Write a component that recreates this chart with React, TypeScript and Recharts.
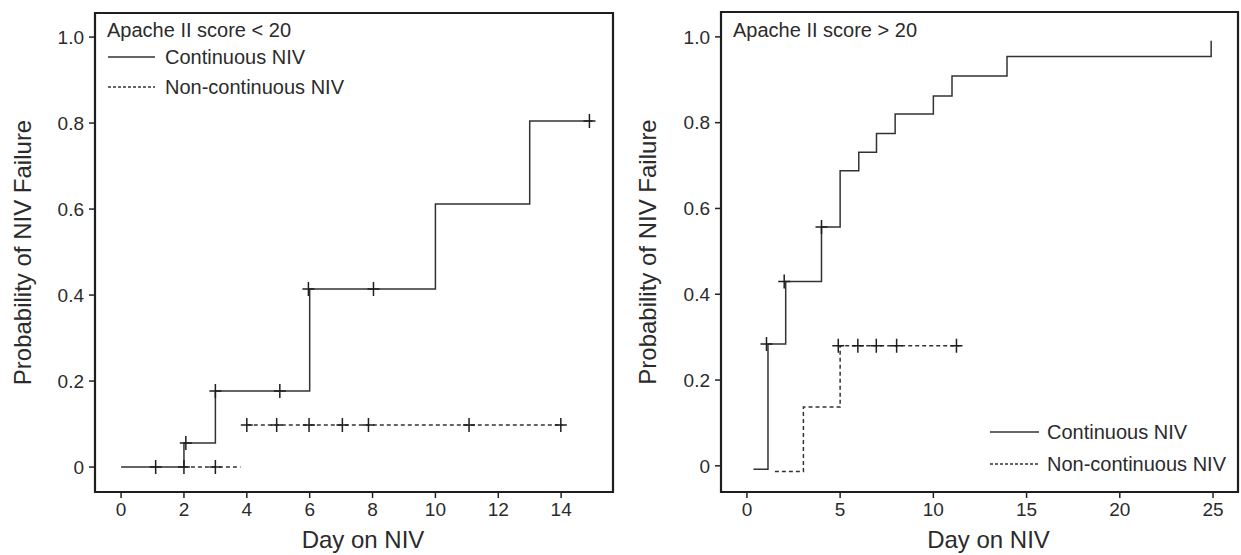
import React from "react";
import {
  ComposedChart,
  Line,
  Scatter,
  XAxis,
  YAxis,
  ReferenceArea,
  Legend,
  Label,
} from "recharts";

// ---------- data ----------
// Left panel: Apache II score < 20
const leftContTimes = [0, 2, 3, 6, 10, 13, 15];
const leftContProb = [0, 0.056, 0.177, 0.414, 0.612, 0.805, 0.805];
const leftContCensorTimes = [1.1, 2.06, 3.0, 5.05, 5.96, 8.03, 14.9];
const leftContCensorProb = [0, 0.056, 0.177, 0.177, 0.414, 0.414, 0.805];

const leftNonAT = [2.0, 3.8];
const leftNonAP = [0, 0];
const leftNonBT = [4.0, 14.05];
const leftNonBP = [0.098, 0.098];
const leftNonCensorTimes = [2.0, 3.0, 4.0, 4.95, 5.98, 7.04, 7.87, 11.07, 13.99];
const leftNonCensorProb = [0, 0, 0.098, 0.098, 0.098, 0.098, 0.098, 0.098, 0.098];

// Right panel: Apache II score > 20
const rightContTimes = [0.35, 1.13, 2.08, 4.0, 5.0, 6.0, 6.95, 7.95, 10.0, 11.0, 13.95, 24.9];
const rightContProb = [-0.008, 0.284, 0.43, 0.557, 0.688, 0.731, 0.775, 0.82, 0.862, 0.909, 0.954, 0.991];
const rightContCensorTimes = [1.05, 2.0, 4.0];
const rightContCensorProb = [0.284, 0.43, 0.557];

const rightNonTimes = [1.5, 3.03, 5.0, 11.45];
const rightNonProb = [-0.013, 0.137, 0.28, 0.28];
const rightNonCensorTimes = [4.9, 5.95, 6.94, 8.03, 11.24];
const rightNonCensorProb = [0.28, 0.28, 0.28, 0.28, 0.28];

const leftXTicks = [0, 2, 4, 6, 8, 10, 12, 14];
const rightXTicks = [0, 5, 10, 15, 20, 25];
const yTicks = [0, 0.2, 0.4, 0.6, 0.8, 1.0];

const leftTitle = "Apache II score < 20";
const rightTitle = "Apache II score > 20";
const seriesNames = ["Continuous NIV", "Non-continuous NIV"];
const yTitle = "Probability of NIV Failure";
const xTitle = "Day on NIV";

// ---------- helpers ----------
const zip = (xs: number[], ys: number[]) => xs.map((x, i) => ({ x, y: ys[i] }));

const FONT = '"Liberation Sans", Arial, Helvetica, sans-serif';
const INK = "#2b2b2b";
const LINE = "#333";

const Plus = (props: any) => {
  const { cx, cy } = props;
  if (cx == null || cy == null) return null;
  return (
    <path
      d={`M${cx - 6},${cy}H${cx + 6}M${cx},${cy - 7}V${cy + 7}`}
      stroke="#1e1e1e"
      strokeWidth={1.5}
      fill="none"
    />
  );
};

const yFmt = (v: number) => (v === 0 ? "0" : v.toFixed(1));

const tickStyle = { fontSize: 19, fill: INK, fontFamily: FONT };

const LeftLegend = () => (
  <div style={{ fontFamily: FONT, fontSize: 20, color: INK, whiteSpace: "nowrap" }}>
    <div style={{ height: 24, lineHeight: "24px" }}>{leftTitle}</div>
    {seriesNames.map((n, i) => (
      <div key={n} style={{ height: 30, display: "flex", alignItems: "center" }}>
        <svg width={47} height={4} style={{ marginLeft: 1 }}>
          <line
            x1={0}
            y1={2}
            x2={47}
            y2={2}
            stroke={LINE}
            strokeWidth={1.5}
            strokeDasharray={i === 1 ? "3 2" : undefined}
          />
        </svg>
        <span style={{ marginLeft: 10, lineHeight: "30px" }}>{n}</span>
      </div>
    ))}
  </div>
);

const RightLegend = () => (
  <div style={{ position: "relative", width: 621, height: 555, fontFamily: FONT, fontSize: 20, color: INK, whiteSpace: "nowrap" }}>
    <div style={{ position: "absolute", left: 113, top: 18, height: 24, lineHeight: "24px" }}>{rightTitle}</div>
    <div style={{ position: "absolute", left: 370, top: 416 }}>
      {seriesNames.map((n, i) => (
        <div key={n} style={{ height: 32, display: "flex", alignItems: "center" }}>
          <svg width={49} height={4}>
            <line
              x1={0}
              y1={2}
              x2={49}
              y2={2}
              stroke={LINE}
              strokeWidth={1.5}
              strokeDasharray={i === 1 ? "3 2" : undefined}
            />
          </svg>
          <span style={{ marginLeft: 8, lineHeight: "32px" }}>{n}</span>
        </div>
      ))}
    </div>
  </div>
);

const lineProps = {
  type: "stepAfter" as const,
  dataKey: "y",
  stroke: LINE,
  strokeWidth: 1.5,
  dot: false,
  activeDot: false,
  isAnimationActive: false,
  legendType: "none" as const,
};

const Panel = ({
  width,
  yAxisWidth,
  marginTop,
  marginRight,
  xDomain,
  yDomain,
  xTicks,
  yTitleDx,
  children,
  legend,
}: any) => (
  <ComposedChart
    width={width}
    height={555}
    margin={{ top: marginTop, right: marginRight, bottom: 0, left: 0 }}
  >
    <XAxis
      dataKey="x"
      type="number"
      domain={xDomain}
      ticks={xTicks}
      allowDataOverflow
      axisLine={false}
      tickLine={{ stroke: "#222", strokeWidth: 1.5 }}
      tickSize={6}
      tickMargin={5}
      height={63}
      tick={tickStyle}
      interval={0}
    >
      <Label
        value={xTitle}
        position="center"
        dx={9}
        dy={15.5}
        style={{ fontSize: 24, fill: INK, fontFamily: FONT }}
      />
    </XAxis>
    <YAxis
      type="number"
      domain={yDomain}
      ticks={yTicks}
      allowDataOverflow
      axisLine={false}
      tickLine={{ stroke: "#222", strokeWidth: 1.5 }}
      tickSize={6}
      tickMargin={5}
      width={yAxisWidth}
      tick={tickStyle}
      tickFormatter={yFmt}
      interval={0}
    >
      <Label
        value={yTitle}
        position="center"
        angle={-90}
        dx={yTitleDx}
        style={{ fontSize: 24, fill: INK, fontFamily: FONT, textAnchor: "middle" }}
      />
    </YAxis>
    <ReferenceArea
      x1={xDomain[0]}
      x2={xDomain[1]}
      y1={yDomain[0]}
      y2={yDomain[1]}
      fill="none"
      stroke="#1e1e1e"
      strokeWidth={2.2}
      ifOverflow="visible"
    />
    {children}
    <Legend
      layout="horizontal"
      verticalAlign="middle"
      align="center"
      content={legend}
      wrapperStyle={legend.wrapper}
    />
  </ComposedChart>
);

export default function App() {
  const leftLegend: any = () => <LeftLegend />;
  leftLegend.wrapper = { position: "absolute", left: 107, top: 18, width: "auto", height: "auto" };
  const rightLegend: any = () => <RightLegend />;
  rightLegend.wrapper = { position: "absolute", left: 0, top: 0, width: 621, height: 555, pointerEvents: "none" };

  return (
    <div style={{ position: "absolute", left: 0, top: 0, width: 1241, height: 555, background: "#fff" }}>
      <div style={{ position: "absolute", left: 0, top: 0 }}>
        <Panel
          width={620}
          yAxisWidth={95}
          marginTop={13}
          marginRight={7}
          xDomain={[-0.83, 15.65]}
          yDomain={[-0.058, 1.056]}
          xTicks={leftXTicks}
          yTitleDx={-25.5}
          legend={leftLegend}
        >
          <Line {...lineProps} data={zip(leftContTimes, leftContProb)} name={seriesNames[0]} />
          <Line {...lineProps} data={zip(leftNonAT, leftNonAP)} strokeDasharray="4 3" name="nonA" />
          <Line {...lineProps} data={zip(leftNonBT, leftNonBP)} strokeDasharray="4 3" name={seriesNames[1]} />
          <Scatter data={zip(leftContCensorTimes, leftContCensorProb)} dataKey="y" shape={Plus} isAnimationActive={false} legendType="none" />
          <Scatter data={zip(leftNonCensorTimes, leftNonCensorProb)} dataKey="y" shape={Plus} isAnimationActive={false} legendType="none" />
        </Panel>
      </div>
      <div style={{ position: "absolute", left: 620, top: 0 }}>
        <Panel
          width={621}
          yAxisWidth={101}
          marginTop={12}
          marginRight={3}
          xDomain={[-1.39, 26.34]}
          yDomain={[-0.061, 1.058]}
          xTicks={rightXTicks}
          yTitleDx={-23.5}
          legend={rightLegend}
        >
          <Line {...lineProps} data={zip(rightContTimes, rightContProb)} name={seriesNames[0]} />
          <Line {...lineProps} data={zip(rightNonTimes, rightNonProb)} strokeDasharray="4 3" name={seriesNames[1]} />
          <Scatter data={zip(rightContCensorTimes, rightContCensorProb)} dataKey="y" shape={Plus} isAnimationActive={false} legendType="none" />
          <Scatter data={zip(rightNonCensorTimes, rightNonCensorProb)} dataKey="y" shape={Plus} isAnimationActive={false} legendType="none" />
        </Panel>
      </div>
    </div>
  );
}
